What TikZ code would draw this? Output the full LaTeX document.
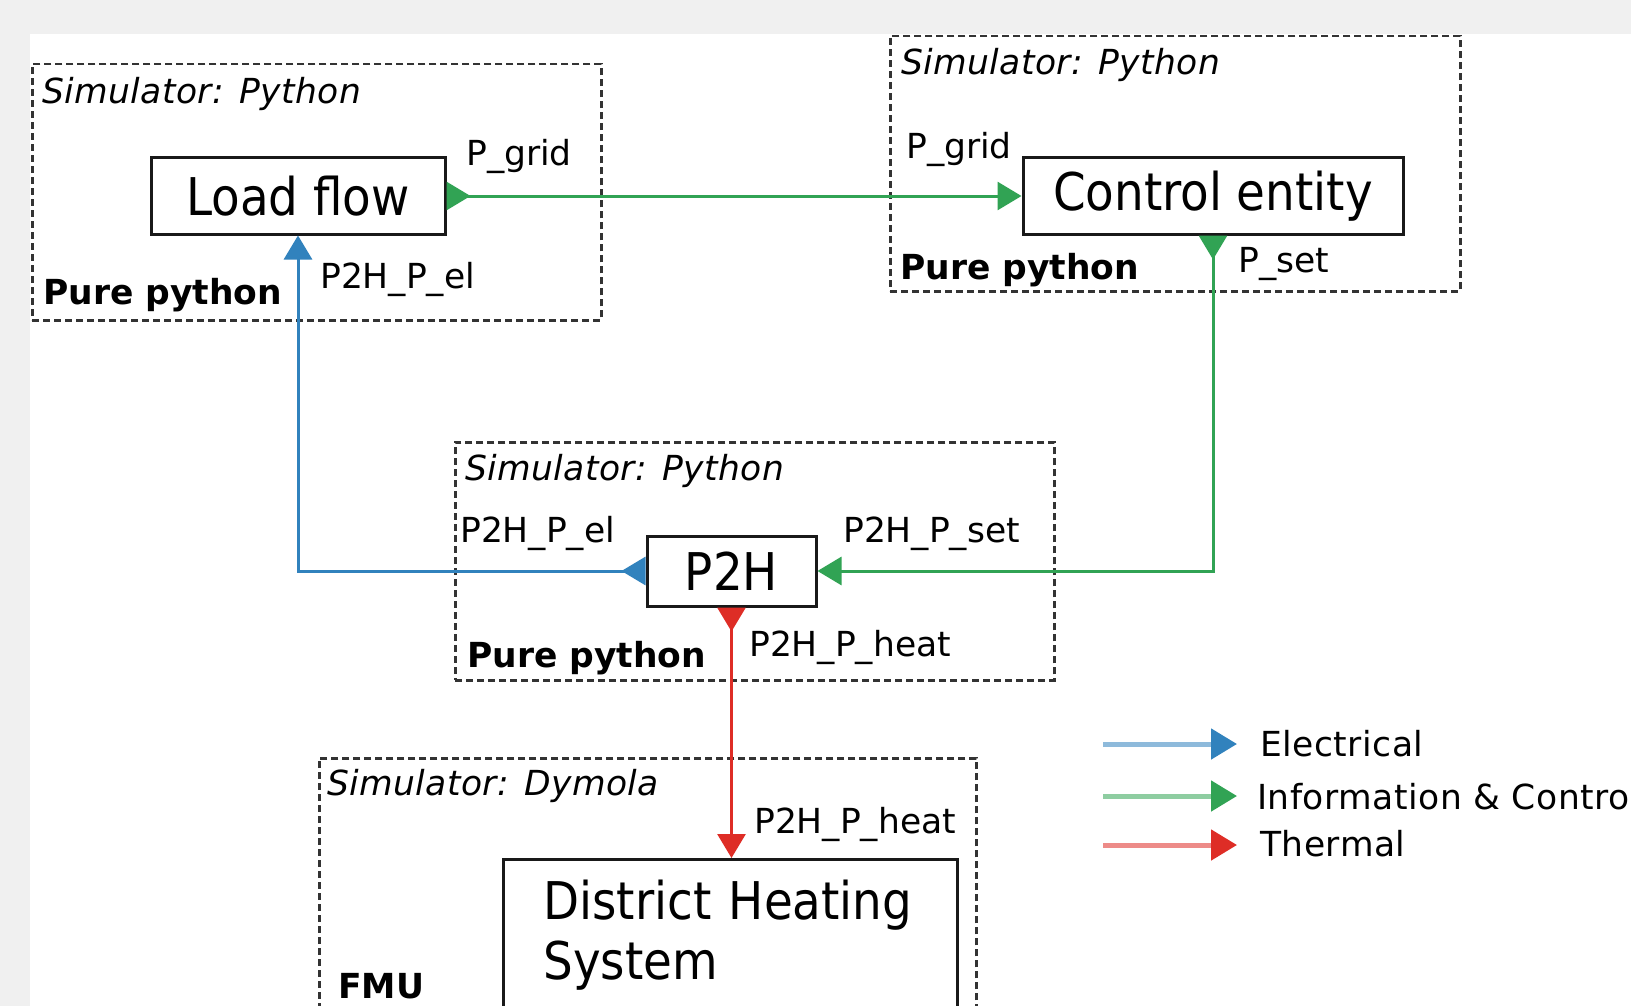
\documentclass[tikz,border=0pt]{standalone}
\usepackage{fontspec}
\setmainfont{DejaVu Sans}
\newfontfamily\condfont{DejaVu Sans Condensed}
\usetikzlibrary{arrows.meta}
\definecolor{elblue}{HTML}{3182BD}
\definecolor{infogreen}{HTML}{31A354}
\definecolor{thred}{HTML}{DE2D26}
\definecolor{bggray}{HTML}{F0F0F0}
\definecolor{boxgray}{HTML}{333333}
\begin{document}
\begin{tikzpicture}[x=1pt,y=-1pt,
  groupbox/.style={draw=boxgray, line width=2.5pt, dash pattern=on 7pt off 4pt, inner sep=0pt, anchor=north west},
  block/.style={draw=black!90, line width=3pt, fill=white, inner sep=0pt, font=\condfont\fontsize{52}{60}\selectfont},
  lbl/.style={anchor=base west, inner sep=0pt, font=\fontsize{34.5}{40}\selectfont},
  leglbl/.style={anchor=base west, inner sep=0pt, font=\fontsize{34.5}{40}\selectfont\addfontfeatures{LetterSpace=1.5}},
  simtitle/.style={anchor=base west, inner sep=0pt, font=\itshape\fontsize{34.5}{40}\selectfont\addfontfeatures{LetterSpace=1.2}},
  kind/.style={anchor=base west, inner sep=0pt, font=\bfseries\fontsize{34.5}{40}\selectfont},
  conn/.style={line width=3pt, {Triangle[reversed, length=24pt, width=28pt]}-{Triangle[length=24pt, width=28pt]}},
  elec/.style={conn, elblue},
  info/.style={conn, infogreen},
  therm/.style={conn, thred},
  legline/.style={line width=5pt}
]
\useasboundingbox (0,0) rectangle (1631,1006);
\clip (0,0) rectangle (1631,1006);
\fill[bggray] (0,0) rectangle (1631,1006);
\fill[white] (30,34) rectangle (1631,1006);

% group boxes
\node[groupbox, minimum width=569pt, minimum height=256pt] (g1) at (31,63) {};
\node[groupbox, minimum width=570pt, minimum height=255pt] (g2) at (889,35) {};
\node[groupbox, minimum width=599pt, minimum height=238pt] (g3) at (454,441) {};
\node[groupbox, minimum width=657pt, minimum height=300pt] (g4) at (318,757) {};

% group texts
\node[simtitle] (t1) at (42,104) {Simulator: Python};
\node[simtitle] (t2) at (901,75) {Simulator: Python};
\node[simtitle] (t3) at (465,480) {Simulator: Python};
\node[simtitle] (t4) at (327,795) {Simulator: Dymola};
\node[kind] (k1) at (43,304) {Pure python};
\node[kind] (k2) at (900,279) {Pure python};
\node[kind] (k3) at (467,667) {Pure python};
\node[kind] (k4) at (338,998) {FMU};

% blocks
\node[block, minimum width=294pt, minimum height=76pt] (lf) at (298,196) {Load flow};
\node[block, minimum width=380pt, minimum height=76pt] (ce) at (1213,196) {Control entity};
\node[block, minimum width=169pt, minimum height=70pt] (p2h) at (731.5,571) {P2H};
\node[block, anchor=north west, text width=374pt, inner xsep=40pt, align=left, minimum height=152pt] (dhs) at (502,858) {District Heating\\System};

% port labels
\node[lbl] (l1) at (466,165) {P\_grid};
\node[lbl] (l2) at (320,288) {P2H\_P\_el};
\node[lbl] (l3) at (906,159) {P\_grid};
\node[lbl] (l4) at (1238,272) {P\_set};
\node[lbl] (l5) at (460,542) {P2H\_P\_el};
\node[lbl] (l6) at (843,542) {P2H\_P\_set};
\node[lbl] (l7) at (749,656) {P2H\_P\_heat};
\node[lbl] (l8) at (754,833) {P2H\_P\_heat};

% connectors
\draw[info] (lf.east) -- (lf.east -| ce.west);
\draw[info] (ce.south) -- (ce.south |- p2h.east) -- (p2h.east);
\draw[elec] (p2h.west) -- (p2h.west -| lf.south) -- (lf.south);
\draw[therm] (p2h.south) -- (p2h.south |- dhs.north);

% legend
\coordinate (e1) at (1103,744); \coordinate (e2) at (1237,744);
\coordinate (i1) at (1103,796); \coordinate (i2) at (1237,796);
\coordinate (h1) at (1103,845); \coordinate (h2) at (1237,845);
\draw[legline, elblue!55, -{Triangle[length=26pt, width=30pt, color=elblue]}] (e1) -- (e2);
\draw[legline, infogreen!55, -{Triangle[length=26pt, width=30pt, color=infogreen]}] (i1) -- (i2);
\draw[legline, thred!55, -{Triangle[length=26pt, width=30pt, color=thred]}] (h1) -- (h2);
\node[leglbl] (le) at (1260,756) {Electrical};
\node[leglbl] (li) at (1257,809) {Information \& Contro};
\node[leglbl] (lt) at (1260,856) {Thermal};
\end{tikzpicture}
\end{document}
